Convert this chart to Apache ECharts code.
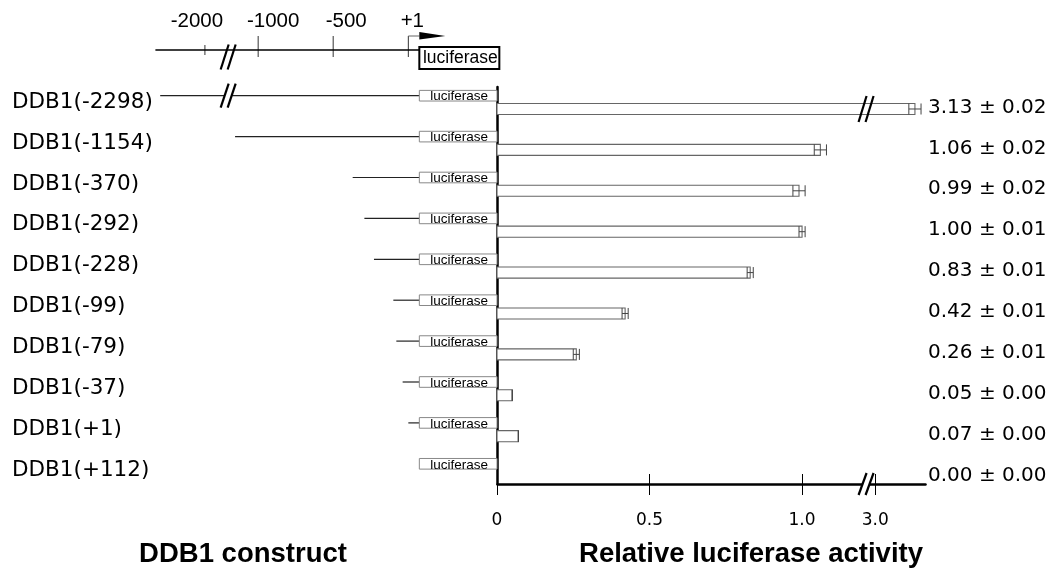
<!DOCTYPE html>
<html>
<head>
<meta charset="utf-8">
<script src="https://cdn.jsdelivr.net/npm/echarts@6/dist/echarts.min.js"></script>
<style>
  html, body { margin: 0; padding: 0; background: #fff; }
  #main { width: 1050px; height: 569px; }
</style>
</head>
<body>
<div id="main"></div>
<script>
// constructs, top to bottom
var constructNames = ['DDB1(-2298)', 'DDB1(-1154)', 'DDB1(-370)', 'DDB1(-292)', 'DDB1(-228)',
  'DDB1(-99)', 'DDB1(-79)', 'DDB1(-37)', 'DDB1(+1)', 'DDB1(+112)'];
var constructStart = [-2298, -1154, -370, -292, -228, -99, -79, -37, 1, 112];
var activity = [3.13, 1.06, 0.99, 1.00, 0.83, 0.42, 0.26, 0.05, 0.07, 0.00];
var activityErr = [0.02, 0.02, 0.02, 0.01, 0.01, 0.01, 0.01, 0.00, 0.00, 0.00];

// promoter map scale on top
var mapTicks = [-2000, -1000, -500, 1];
var mapTickLabels = ['-2000', '-1000', '-500', '+1'];
// activity axis
var activityTicks = [0, 0.5, 1.0, 3.0];
var activityTickLabels = ['0', '0.5', '1.0', '3.0'];

// layout
var mapBreak = [-1845, -1200];
var activityBreak = [1.2, 2.96];
var mapLabelDx = [-8, 15, 13, 4];
var ROW_MIN = -0.2127, ROW_MAX = 9.494;
var fontH = '"Liberation Sans", Arial, sans-serif';
var fontD = '"DejaVu Sans", sans-serif';

var chart = echarts.init(document.getElementById('main'));

function txt(text, x, y, size, family, align, weight) {
  return {
    type: 'text',
    style: {
      text: text, x: x, y: y,
      fontSize: size, fontFamily: family, fontWeight: weight || 'normal',
      fill: '#000', align: align || 'left', verticalAlign: 'middle'
    }
  };
}

function line(x1, y1, x2, y2, color, width) {
  return { type: 'line', shape: { x1: x1, y1: y1, x2: x2, y2: y2 },
    style: { stroke: color, lineWidth: width } };
}

// "//" break mark
function slashes(cx, cy, h) {
  var out = [{ type: 'rect', shape: { x: cx - 3.5, y: cy - 3, width: 7, height: 6 },
    style: { fill: '#fff' } }];
  [-3.5, 3.5].forEach(function (d) {
    out.push(line(cx + d - 4, cy + h / 2, cx + d + 4, cy - h / 2, '#000', 2.2));
  });
  return out;
}

function boxLeftOf(api, row) {
  return api.coord([1, row])[0] + 11;
}

function renderHeader(params, api) {
  var k = params.dataIndex;
  var x = api.coord([api.value(0), 0])[0];
  var cs = params.coordSys;
  var children = [];
  var top = k === 0 ? 45 : 36;
  var bottom = k === 0 ? 55 : 57;
  children.push(line(x, top, x, bottom, '#333', 1));
  children.push(txt(mapTickLabels[k], x + mapLabelDx[k], 21, 20.5, fontH, 'center'));
  if (k === mapTicks.length - 1) {
    var bl = boxLeftOf(api, 0);
    children.push(line(cs.x, 50, bl, 50, '#000', 1.3));
    children = children.concat(slashes(api.coord([mapBreak[0], 0])[0], 57, 25));
    children.push(line(x, 36, bl, 36, '#666', 1));
    children.push({ type: 'polygon', shape: { points: [[bl, 32], [bl + 26, 36], [bl, 39.5]] },
      style: { fill: '#000' } });
    children.push({ type: 'rect', shape: { x: bl, y: 47, width: 80, height: 22 },
      style: { fill: '#fff', stroke: '#000', lineWidth: 2 } });
    children.push(txt('luciferase', bl + 41, 58, 17.5, fontH, 'center'));
  }
  return { type: 'group', children: children };
}

function renderConstruct(params, api) {
  var i = api.value(1);
  var cs = params.coordSys;
  var band = Math.abs(api.size([0, 1])[1]);
  var p = api.coord([api.value(0), i]);
  var bl = boxLeftOf(api, i);
  var br = cs.x + cs.width;
  var bh = band * 0.26;
  var children = [];
  if (p[0] < bl) {
    children.push(line(p[0], p[1], bl, p[1], '#222', 1.2));
  }
  if (api.value(0) < mapBreak[0]) {
    children = children.concat(slashes(api.coord([mapBreak[0], i])[0], p[1], 24));
  }
  children.push({ type: 'rect', shape: { x: bl, y: p[1] - bh / 2, width: br - bl, height: bh },
    style: { fill: '#fff', stroke: '#888', lineWidth: 1 } });
  children.push(txt('luciferase', (bl + br) / 2 + 1, p[1] + 1, 13.5, fontH, 'center'));
  children.push(txt(constructNames[i], 12, p[1] + 6.5, 21.5, fontD, 'left'));
  return { type: 'group', children: children };
}

function renderBar(params, api) {
  var v = api.value(0), i = api.value(1), e = api.value(2);
  var cs = params.coordSys;
  var band = Math.abs(api.size([0, 1])[1]);
  var base = api.coord([0, i]);
  var cy = base[1] + band * 0.325;
  var h = band * 0.27;
  var xv = api.coord([v, i])[0];
  var lo = api.coord([v - e, i])[0], hi = api.coord([v + e, i])[0];
  var children = [];
  if (v > 0) {
    children.push({ type: 'rect', shape: { x: base[0], y: cy - h / 2, width: xv - base[0], height: h },
      style: { fill: '#fff', stroke: '#666', lineWidth: 1.1 } });
    children.push(line(lo, cy, hi, cy, '#444', 1));
    children.push(line(lo, cy - h / 2, lo, cy + h / 2, '#444', 1));
    children.push(line(hi, cy - h / 2, hi, cy + h / 2, '#444', 1));
  }
  if (v > activityBreak[0]) {
    children = children.concat(slashes(api.coord([activityBreak[0], i])[0] + 3, cy, 26));
  }
  var label = v.toFixed(2) + ' \u00b1 ' + e.toFixed(2);
  children.push(txt(label, cs.x + cs.width + 3, cy - 1.5, 20, fontD, 'left'));
  return { type: 'group', children: children };
}

function renderAxisBreak(params, api) {
  var p = api.coord([api.value(0), api.value(1)]);
  return { type: 'group', children: slashes(p[0] + 3, p[1], 22) };
}

function tickLabel(v) {
  for (var k = 0; k < activityTicks.length; k++) {
    if (Math.abs(activityTicks[k] - v) < 1e-9) return activityTickLabels[k];
  }
  return '';
}

var option = {
  animation: false,
  backgroundColor: '#fff',
  title: [
    { text: 'DDB1 construct', left: 243, top: 540, textAlign: 'center', padding: 0,
      textStyle: { fontFamily: fontH, fontWeight: 'bold', fontSize: 27.5, lineHeight: 28, color: '#000' } },
    { text: 'Relative luciferase activity', left: 751, top: 540, textAlign: 'center', padding: 0,
      textStyle: { fontFamily: fontH, fontWeight: 'bold', fontSize: 27.5, lineHeight: 28, color: '#000' } }
  ],
  grid: [
    { left: 155.4, width: 341.6, top: 87, height: 397, containLabel: false, outerBoundsMode: 'none' },
    { left: 497, width: 428, top: 87, height: 397, containLabel: false, outerBoundsMode: 'none' }
  ],
  xAxis: [
    { type: 'value', gridIndex: 0, min: -2330, max: 592, show: false,
      breaks: [{ start: mapBreak[0], end: mapBreak[1], gap: 0 }],
      breakArea: { show: false } },
    { type: 'value', gridIndex: 1, min: 0, max: 3.163, position: 'bottom',
      breaks: [{ start: activityBreak[0], end: activityBreak[1], gap: 0 }],
      breakArea: { show: false },
      splitLine: { show: false },
      axisLine: { show: true, onZero: false, lineStyle: { color: '#000', width: 2.5 } },
      axisTick: { show: true, inside: false, customValues: activityTicks, length: 11, lineStyle: { color: '#000', width: 1 } },
      axisLabel: { show: true, customValues: activityTicks, formatter: tickLabel, margin: 28,
        fontFamily: fontD, fontSize: 17, color: '#000' } },
    { type: 'value', gridIndex: 1, min: 0, max: 3.163, position: 'bottom',
      breaks: [{ start: activityBreak[0], end: activityBreak[1], gap: 0 }],
      breakArea: { show: false },
      splitLine: { show: false },
      axisLine: { show: false, onZero: false },
      axisTick: { show: true, inside: true, customValues: activityTicks, length: 10, lineStyle: { color: '#000', width: 1 } },
      axisLabel: { show: false } }
  ],
  yAxis: [
    { type: 'value', gridIndex: 0, inverse: true, min: ROW_MIN, max: ROW_MAX, show: false },
    { type: 'value', gridIndex: 1, inverse: true, min: ROW_MIN, max: ROW_MAX,
      splitLine: { show: false }, axisTick: { show: false }, axisLabel: { show: false },
      axisLine: { show: true, onZero: false, lineStyle: { color: '#000', width: 2.5 } } }
  ],
  series: [
    { type: 'custom', name: 'map', xAxisIndex: 0, yAxisIndex: 0, clip: false, silent: true,
      renderItem: renderHeader,
      data: mapTicks.map(function (v, k) { return [v, 0]; }) },
    { type: 'custom', name: 'constructs', xAxisIndex: 0, yAxisIndex: 0, clip: false, silent: true,
      renderItem: renderConstruct,
      data: constructStart.map(function (v, i) { return [v, i]; }) },
    { type: 'custom', name: 'activity', xAxisIndex: 1, yAxisIndex: 1, clip: false, silent: true,
      renderItem: renderBar,
      data: activity.map(function (v, i) { return [v, i, activityErr[i]]; }) },
    { type: 'custom', name: 'axisBreak', xAxisIndex: 1, yAxisIndex: 1, clip: false, silent: true,
      renderItem: renderAxisBreak,
      data: [[activityBreak[0], ROW_MAX]] }
  ]
};
chart.setOption(option);
</script>
</body>
</html>
